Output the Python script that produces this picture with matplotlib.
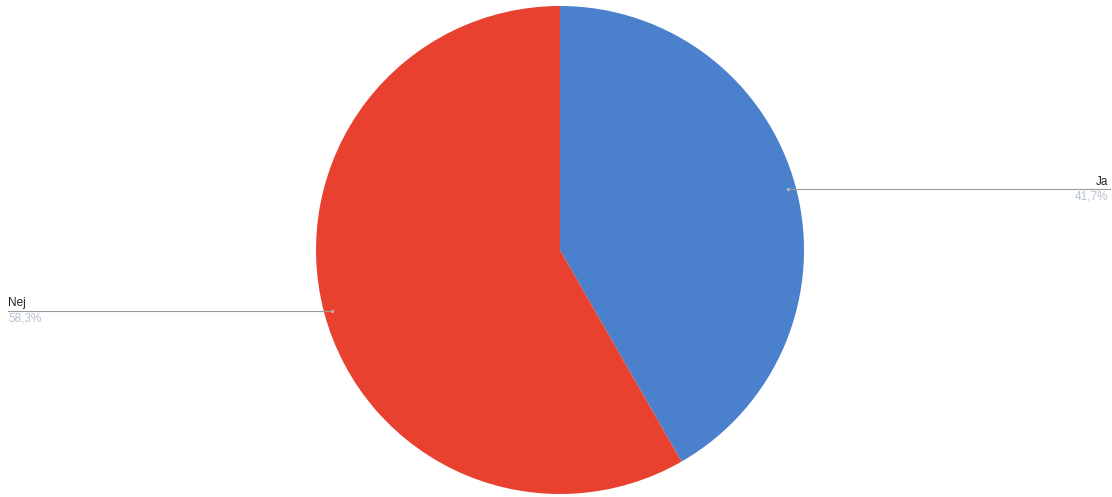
import matplotlib
matplotlib.use("Agg")
import matplotlib.pyplot as plt
import numpy as np

labels = ["Ja", "Nej"]
values = [41.7, 58.3]
pct_text = ["41,7%", "58,3%"]
colors = ["#4a80cc", "#e8412f"]

W, H = 1112, 497
fig = plt.figure(figsize=(W / 100, H / 100), dpi=100)
ax = fig.add_axes([0, 0, 1, 1])

cx, cy, r = 560, H - 250, 244
wedges, _ = ax.pie(values, colors=colors, startangle=90, counterclock=False,
                   center=(cx, cy), radius=r, frame=True,
                   wedgeprops=dict(linewidth=0))
ax.set_xlim(0, W)
ax.set_ylim(0, H)
ax.set_aspect("equal")
ax.axis("off")

plt.rcParams['font.family'] = ['Liberation Sans', 'DejaVu Sans']
for w, lab, pt in zip(wedges, labels, pct_text):
    ang = np.deg2rad((w.theta1 + w.theta2) / 2)
    px = cx + (r - 8) * np.cos(ang)
    py = cy + (r - 8) * np.sin(ang)
    ax.plot([px], [py], marker="o", ms=2, color="#dddddd", mec="none")
    if np.cos(ang) > 0:
        x_end = W - 2
        ax.plot([px, x_end], [py, py], color="#9a9a9a", lw=0.8)
        ax.text(x_end - 2, py + 1.5, lab, ha="right", va="bottom", fontsize=8.5, color="#222222")
        ax.text(x_end - 2, py - 1.5, pt, ha="right", va="top", fontsize=8.5, color="#b8c0d0")
    else:
        x_end = 8
        ax.plot([x_end, px], [py, py], color="#9a9a9a", lw=0.8)
        ax.text(x_end, py + 1.5, lab, ha="left", va="bottom", fontsize=8.5, color="#222222")
        ax.text(x_end, py - 1.5, pt, ha="left", va="top", fontsize=8.5, color="#b8c0d0")

fig.savefig("out.png", dpi=100, facecolor="white")
